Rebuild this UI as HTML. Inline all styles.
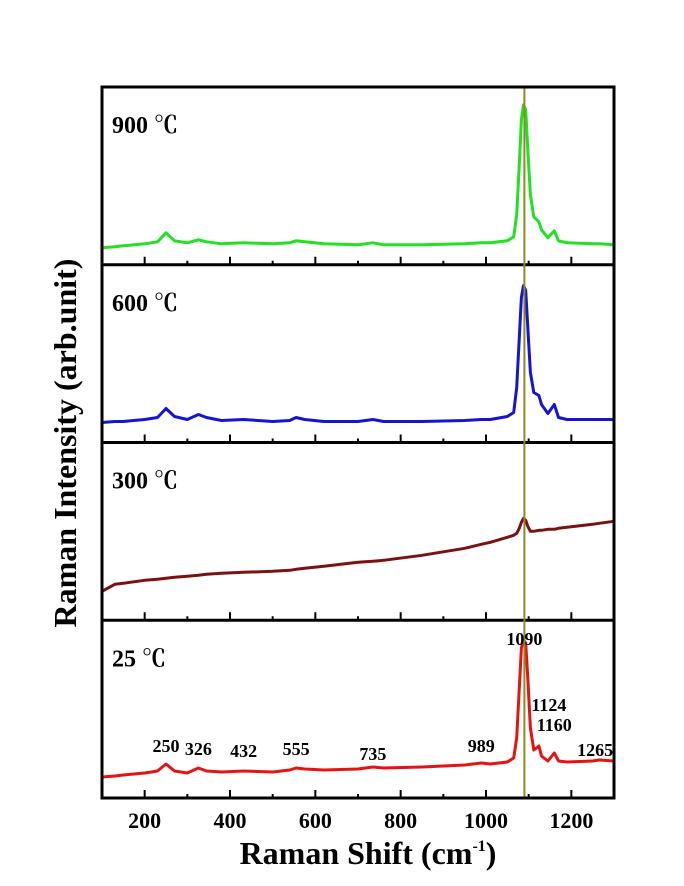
<!DOCTYPE html>
<html><head><meta charset="utf-8"><style>
body{margin:0;background:#fff}
svg{display:block}
text{font-family:"Liberation Serif","Noto Serif CJK SC",serif;font-weight:bold;fill:#000}
</style></head><body>
<svg id="chart" width="684" height="886" viewBox="0 0 684 886" xmlns="http://www.w3.org/2000/svg"></svg>
<script>
const wn = [100,130,150,200,230,250,270,300,326,345,380,432,500,540,555,575,620,700,735,760,850,950,989,1010,1050,1065,1072,1078,1083,1088,1093,1098,1104,1112,1124,1130,1145,1160,1170,1190,1250,1265,1300];
const s900 = [17,18,19,21,23,32,24,22,25,23,21,22,21,22,24,23,21,20,22,20,20,21,22,22,24,28,50,100,145,160,155,115,70,48,43,35,27,34,24,22,21,21,20];
const s600 = [20,21,21,23,25,34,26,23,28,25,22,23,21,22,25,23,21,21,23,21,21,22,23,23,26,30,55,105,145,157,152,115,70,50,47,38,29,38,25,23,23,23,23];
const s300 = [29,36,37,40,41,42,43,44,45,46,47,48,49,50,51,52,54,58,59,60,65,72,76,78,83,85,87,92,98,102,100,94,89,89,90,90,91,91,92,93,96,97,99];
const s25 = [21,22,23,25,27,34,27,25,30,27,26,27,26,28,30,29,28,29,31,30,31,33,35,34,36,40,60,110,150,158,155,120,70,48,52,42,37,45,37,36,37,38,37];
const series = [s900,s600,s300,s25];
const seriesLabels = ["900 ℃","600 ℃","300 ℃","25 ℃"];
const seriesColors = ["#22e022","#1414d2","#7a1212","#e41414"];
const xTicks = [200,400,600,800,1000,1200];
const minorTicks = [300,500,700,900,1100];
const peakLabels = [250,326,432,555,735,989,1090,1124,1160,1265];
const peakLabelHeights = [46,43,41,43,38,46,153,87,67,42];

const NS="http://www.w3.org/2000/svg";
const svg=document.getElementById('chart');
const L=102,R=614,T=87,PH=177.75;
const X=v=>L+(v-100)/1200*(R-L);
const PB=i=>T+PH*(i+1);
const Y=(i,v)=>PB(i)-v;
function el(tag,attrs,txt){const e=document.createElementNS(NS,tag);for(const k in attrs)e.setAttribute(k,attrs[k]);if(txt!==undefined)e.textContent=txt;svg.appendChild(e);return e;}

series.forEach((s,i)=>{
  const p=el('polyline',{points:wn.map((w,j)=>X(w).toFixed(1)+','+Y(i,s[j]).toFixed(1)).join(' '),fill:'none',stroke:seriesColors[i],'stroke-width':3,'stroke-linejoin':'round'});
  
  
  const t=el('text',{x:112,y:T+PH*i+46,'font-size':24},seriesLabels[i]);
  
  
  xTicks.forEach(v=>{const k=el('line',{x1:X(v),x2:X(v),y1:PB(i),y2:PB(i)-8,stroke:'#000','stroke-width':2});
    });
  minorTicks.forEach(v=>{const k=el('line',{x1:X(v),x2:X(v),y1:PB(i),y2:PB(i)-4,stroke:'#000','stroke-width':2});
    });
  if(i<3){const d=el('line',{x1:L,x2:R,y1:PB(i),y2:PB(i),stroke:'#000','stroke-width':3});
    }
});
const vl=el('line',{x1:X(1090),x2:X(1090),y1:T,y2:PB(3),stroke:'#8c8c1e','stroke-width':2});


const fr=el('rect',{x:L,y:T,width:R-L,height:PH*4,fill:'none',stroke:'#000','stroke-width':3});


peakLabels.forEach((p,j)=>{const t=el('text',{x:X(p)+(p===1124?10:p===1265?-4:0),y:Y(3,peakLabelHeights[j]),'font-size':18,'text-anchor':'middle'},String(p));
  });
xTicks.forEach(v=>{const t=el('text',{x:X(v),y:828,'font-size':22,'text-anchor':'middle'},String(v));
  });
const xt=el('text',{x:368,y:864,'font-size':32,'text-anchor':'middle'});


xt.innerHTML='Raman Shift (cm<tspan dy="-13" font-size="16">-1</tspan><tspan dy="13">)</tspan>';
const yt=el('text',{x:0,y:0,'font-size':32,'text-anchor':'middle',transform:'translate(76,443) rotate(-90)'},'Raman Intensity (arb.unit)');


</script>
</body></html>
